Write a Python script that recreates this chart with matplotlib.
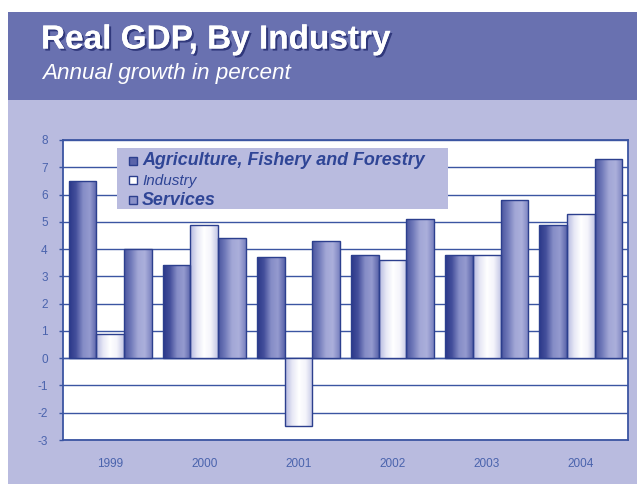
import numpy as np
import matplotlib.pyplot as plt
import matplotlib.patheffects as pe
from matplotlib.colors import LinearSegmentedColormap
from matplotlib.lines import Line2D

plt.rcParams['axes.unicode_minus'] = False
plt.rcParams['font.family'] = 'Liberation Sans'

# dados: crescimento anual do PIB real por setor (%)
anos = ['1999', '2000', '2001', '2002', '2003', '2004']
agricultura = [6.5, 3.4, 3.7, 3.8, 3.8, 4.9]
industria = [0.9, 4.9, -2.5, 3.6, 3.8, 5.3]
servicos = [4.0, 4.4, 4.3, 5.1, 5.8, 7.3]

azul_texto = '#2f4596'
fundo_claro = '#b9bbdf'
faixa_escura = '#6971b0'

# gradientes horizontais para dar efeito de cilindro nas barras
cm_agri = LinearSegmentedColormap.from_list('agri', ['#2b3889', '#45509c', '#858cc6', '#959bcf', '#5a64aa'])
cm_ind = LinearSegmentedColormap.from_list('ind', ['#b4b8df', '#e6e7f5', '#ffffff', '#f4f4fb', '#c4c7e6'])
cm_serv = LinearSegmentedColormap.from_list('serv', ['#4a559e', '#717aba', '#a2a7d6', '#abafdb', '#7a82bf'])

fig = plt.figure(figsize=(6.37, 4.86), dpi=100)
fig.patch.set_facecolor('white')

# painel de fundo e faixa do título
fig.patches.append(plt.Rectangle((8 / 637, 2 / 486), 629 / 637, 472 / 486, transform=fig.transFigure,
                                 facecolor=fundo_claro, edgecolor='none', zorder=-2))
fig.patches.append(plt.Rectangle((8 / 637, 1 - 100 / 486), 629 / 637, 88 / 486, transform=fig.transFigure,
                                 facecolor=faixa_escura, edgecolor='none', zorder=-1))

fig.text(41 / 637, 1 - 40 / 486, 'Real GDP, By Industry', color='white', fontsize=24, fontweight='bold',
         va='center',
         path_effects=[pe.withSimplePatchShadow(offset=(1.5, -1.5), shadow_rgbFace='#2a3276', alpha=0.9), pe.Normal()])
fig.text(42 / 637, 1 - 74 / 486, 'Annual growth in percent', color='white', fontsize=16.2, fontstyle='italic',
         va='center')

ax = fig.add_axes([63 / 637, 1 - 440 / 486, 565 / 637, 300 / 486])
ax.set_facecolor('white')

x = np.arange(len(anos))
largura = 0.294
series = [(agricultura, cm_agri, -largura), (industria, cm_ind, 0), (servicos, cm_serv, largura)]
grad = np.linspace(0, 1, 64).reshape(1, -1)

for valores, cmap, desloc in series:
    barras = ax.bar(x + desloc, valores, largura, facecolor='none', edgecolor='#2c3f8e', linewidth=1.0, zorder=3)
    for b in barras:
        x0, y0 = b.get_x(), b.get_y()
        w, h = b.get_width(), b.get_height()
        im = ax.imshow(grad, cmap=cmap, aspect='auto', extent=(x0, x0 + w, y0, y0 + h), zorder=2)
        im.set_clip_path(b)

ax.set_xlim(-0.5, len(anos) - 0.5)
ax.set_ylim(-3, 8)
ax.set_yticks(range(-3, 9))
ax.set_xticks(x)
ax.set_xticklabels(anos)
ax.grid(axis='y', color='#3b55a2', linewidth=1.0, zorder=1)
ax.axhline(0, color='#3b55a2', linewidth=1.0, zorder=1)
ax.tick_params(axis='both', colors='#3b55a2', labelcolor='#4a63ad', labelsize=8.5, length=3, width=1)
ax.tick_params(axis='y', pad=8)
ax.tick_params(axis='x', length=0, pad=13)
for s in ax.spines.values():
    s.set_color('#3b55a2')
    s.set_linewidth(1.3)

# caixa da legenda desenhada à parte, com estilos diferentes por entrada
ax.add_patch(plt.Rectangle((0.0956, 0.77), 0.585, 0.203, transform=ax.transAxes,
                           facecolor=fundo_claro, edgecolor='none', zorder=5))
handles = [Line2D([], [], marker='s', linestyle='none', markersize=5.5, markerfacecolor=c,
                  markeredgecolor='#2c3f8e', markeredgewidth=1.0)
           for c in ['#5a64aa', '#ffffff', '#8a91c9']]
leg = ax.legend(handles, ['Agriculture, Fishery and Forestry', 'Industry', 'Services'],
                loc='upper left', bbox_to_anchor=(0.112, 0.968), frameon=False,
                handlelength=0.5, handletextpad=0.45, labelspacing=0.32, borderpad=0.2,
                borderaxespad=0)
leg.set_zorder(6)
estilos = [(12.9, 'bold'), (11, 'normal'), (12.9, 'bold')]
for t, (tam, peso) in zip(leg.get_texts(), estilos):
    t.set_color(azul_texto)
    t.set_fontstyle('italic')
    t.set_fontsize(tam)
    t.set_fontweight(peso)

fig.savefig('out.png', dpi=100)
